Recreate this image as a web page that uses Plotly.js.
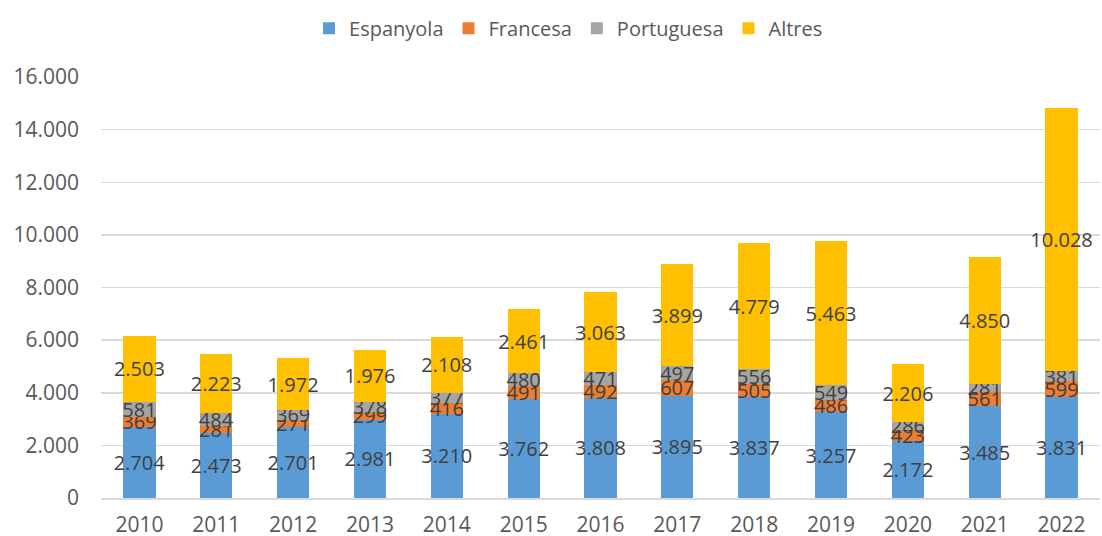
<!DOCTYPE html>
<html>
<head>
<meta charset="utf-8">
<script src="https://cdn.plot.ly/plotly-3.0.1.min.js"></script>
<style>html,body{margin:0;padding:0;background:#fff;}#chart{width:1102px;height:536px;}</style>
</head>
<body>
<div id="chart"></div>
<script>
const years = ['2010','2011','2012','2013','2014','2015','2016','2017','2018','2019','2020','2021','2022'];
const espanyola = [2704, 2473, 2701, 2981, 3210, 3762, 3808, 3895, 3837, 3257, 2172, 3485, 3831];
const francesa = [369, 281, 271, 299, 416, 491, 492, 607, 505, 486, 423, 561, 599];
const portuguesa = [581, 484, 369, 378, 377, 480, 471, 497, 556, 549, 286, 281, 381];
const altres = [2503, 2223, 1972, 1976, 2108, 2461, 3063, 3899, 4779, 5463, 2206, 4850, 10028];
const seriesNames = ['Espanyola', 'Francesa', 'Portuguesa', 'Altres'];
const seriesColors = ['#5B9BD5', '#ED7D31', '#A5A5A5', '#FFC000'];
const yTicks = [0, 2000, 4000, 6000, 8000, 10000, 12000, 14000, 16000];

const FONT = '"Open Sans", "Noto Sans", sans-serif';
const data = [espanyola, francesa, portuguesa, altres].map((vals, i) => ({
  type: 'bar',
  name: seriesNames[i],
  x: years,
  y: vals,
  marker: {color: seriesColors[i], line: {width: 0}},
  texttemplate: '%{y:,}',
  textposition: 'inside',
  insidetextanchor: 'middle',
  textangle: 0,
  constraintext: 'none',
  cliponaxis: false,
  textfont: {family: FONT, size: 20, color: '#404040'},
  hoverinfo: 'skip'
}));

const layout = {
  width: 1102,
  height: 536,
  barmode: 'stack',
  bargap: 0.58,
  separators: ',.',
  margin: {l: 101, r: 2, t: 77, b: 38},
  paper_bgcolor: '#ffffff',
  plot_bgcolor: '#ffffff',
  font: {family: FONT, color: '#595959', size: 20},
  uniformtext: {mode: 'show', minsize: 20},
  showlegend: true,
  legend: {
    orientation: 'h',
    x: 0.468, xanchor: 'center',
    y: 1.116, yanchor: 'middle',
    font: {family: FONT, size: 20, color: '#595959'},
    traceorder: 'normal',
    itemclick: false
  },
  xaxis: {
    type: 'category',
    tickfont: {family: FONT, size: 21, color: '#595959'},
    showgrid: false,
    showline: true,
    linecolor: '#D9D9D9',
    linewidth: 1.5,
    ticks: '',
    ticklabelstandoff: 7
  },
  yaxis: {
    range: [0, 16000],
    tickvals: yTicks,
    tickformat: ',d',
    tickfont: {family: FONT, size: 21, color: '#595959'},
    showgrid: true,
    gridcolor: '#D9D9D9',
    gridwidth: 1.5,
    zeroline: false,
    showline: false,
    ticks: '',
    ticklabelstandoff: 21
  }
};

Plotly.newPlot('chart', data, layout, {staticPlot: true, displayModeBar: false});
</script>
</body>
</html>
